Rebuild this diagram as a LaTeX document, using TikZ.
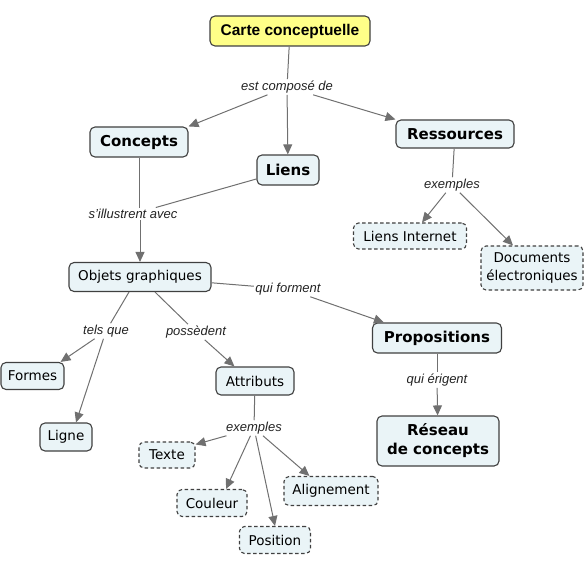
\documentclass[tikz,border=0pt]{standalone}
\usepackage{fontspec}
\setmainfont{DejaVu Sans}
\newfontfamily\labfont{Liberation Sans}
\newfontfamily\titlefont{Liberation Sans}
\usetikzlibrary{arrows.meta,calc}
\definecolor{nodefill}{HTML}{EAF4F7}
\definecolor{titlefill}{HTML}{FFFF88}
\definecolor{edgecol}{HTML}{707070}
\definecolor{bordercol}{HTML}{404040}
\definecolor{labcol}{HTML}{222222}
\begin{document}
\begin{tikzpicture}[x=1pt,y=-1pt,
  box/.style={draw=bordercol, line width=1.1pt, fill=nodefill, rounded corners=5pt, align=center, inner sep=0pt, text=black},
  mainbox/.style={box, font=\fontsize{15}{19}\selectfont\bfseries},
  subbox/.style={box, font=\fontsize{13.5}{17.5}\selectfont},
  exbox/.style={subbox, dash pattern=on 3.5pt off 2.5pt},
  lab/.style={font=\labfont\itshape\fontsize{13}{15}\selectfont, inner sep=1.5pt, text=labcol},
  conn/.style={draw=edgecol, line width=1pt},
  arr/.style={conn, -{Triangle[length=10pt,width=9pt]}}]
\useasboundingbox (0,0) rectangle (585,572);
% nodes
\node[box, fill=titlefill, font=\titlefont\fontsize{15.5}{18}\selectfont\bfseries, minimum width=160pt, minimum height=30pt] (carte) at (290,31) {Carte conceptuelle};
\node[mainbox, minimum width=98pt, minimum height=30pt] (concepts) at (139,142) {Concepts};
\node[mainbox, minimum width=62pt, minimum height=30pt] (liens) at (288,170) {Liens};
\node[mainbox, minimum width=118pt, minimum height=28pt] (ress) at (455,134) {Ressources};
\node[exbox, minimum width=113pt, minimum height=26pt] (liensint) at (410,236) {Liens Internet};
\node[exbox, minimum width=102pt, minimum height=44pt] (docs) at (532,268) {Documents\\électroniques};
\node[subbox, minimum width=142pt, minimum height=29pt] (objets) at (140,277) {Objets graphiques};
\node[mainbox, minimum width=129pt, minimum height=30pt] (prop) at (437,338) {Propositions};
\node[subbox, minimum width=63pt, minimum height=27pt] (formes) at (32.5,376) {Formes};
\node[subbox, minimum width=78pt, minimum height=28pt] (attr) at (255,381) {Attributs};
\node[mainbox, minimum width=122pt, minimum height=50pt] (reseau) at (438,441) {Réseau\\de concepts};
\node[subbox, minimum width=52pt, minimum height=28pt] (ligne) at (66,437) {Ligne};
\node[exbox, minimum width=56pt, minimum height=26pt] (texte) at (167,455) {Texte};
\node[exbox, minimum width=70pt, minimum height=27pt] (couleur) at (212,503) {Couleur};
\node[exbox, minimum width=94pt, minimum height=29pt] (align) at (331,491) {Alignement};
\node[exbox, minimum width=71pt, minimum height=27pt] (position) at (275,540) {Position};
% labels
\node[lab] (l1) at (287,87) {est composé de};
\node[lab] (l2) at (133,214) {s’illustrent avec};
\node[lab] (l3) at (452,185) {exemples};
\node[lab] (l4) at (288,289) {qui forment};
\node[lab] (l5) at (106,331) {tels que};
\node[lab] (l6) at (196,332) {possèdent};
\node[lab] (l7) at (437,380) {qui érigent};
\node[lab] (l8) at (254,428) {exemples};
% connectors
\draw[conn] (carte) -- (l1);
\draw[arr] (l1) -- (concepts.north east);
\draw[arr] (l1) -- (liens);
\draw[arr] (l1) -- (ress.north west);
\draw[conn] (concepts.south) -- (concepts.south |- l2.north);
\draw[conn] (liens) -- (l2);
\draw[arr] (objets.north |- l2.south) -- (objets.north);
\draw[conn] (ress) -- (l3);
\draw[arr] (l3) -- ($(liensint.north)+(12,0)$);
\draw[arr] (l3) -- ($(docs.north)+(-19,0)$);
\draw[conn] (objets) -- (l4);
\draw[arr] (l4) -- ($(prop.north west)+(12,0)$);
\draw[conn] ($(objets.south)+(-11,0)$) -- (l5);
\draw[arr] (l5) -- ($(formes.north east)+(-4,0)$);
\draw[arr] (l5) -- ($(ligne.north)+(10,0)$);
\draw[conn] ($(objets.south)+(15,0)$) -- (l6);
\draw[arr] (l6) -- ($(attr.north west)+(19,0)$);
\draw[conn] (prop) -- (l7);
\draw[arr] (l7) -- (reseau);
\draw[conn] (attr) -- (l8);
\draw[arr] (l8) -- ($(texte.north east)+(0,3)$);
\draw[arr] (l8) -- ($(couleur.north)+(14,0)$);
\draw[arr] (l8) -- (position.north);
\draw[arr] (l8) -- ($(align.north west)+(26,0)$);
\end{tikzpicture}
\end{document}
